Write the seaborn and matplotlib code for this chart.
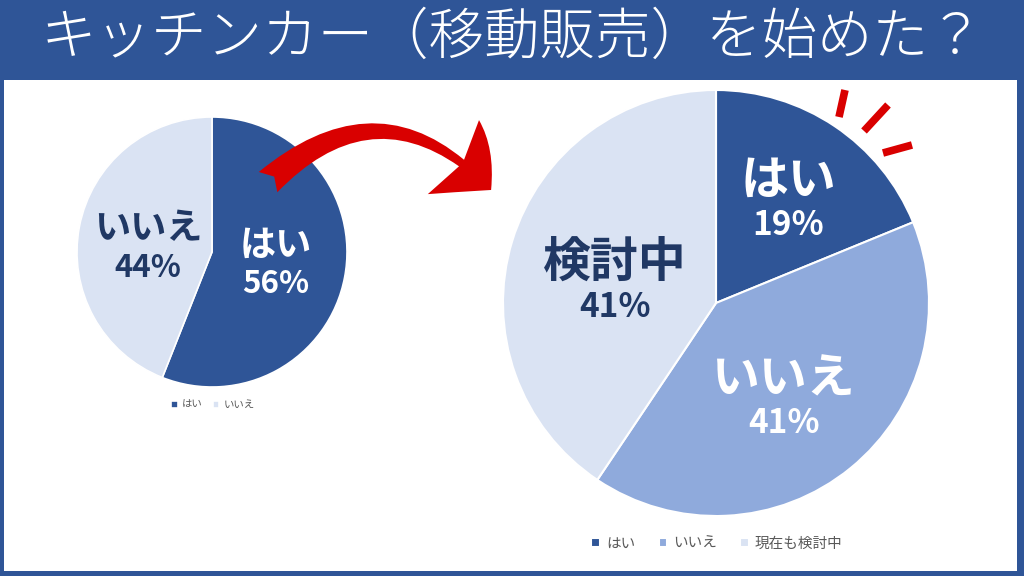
import matplotlib
matplotlib.use("Agg")
import matplotlib.pyplot as plt
import seaborn as sns
from matplotlib.patches import Rectangle, FancyArrowPatch
from matplotlib.lines import Line2D

sns.set_theme(style="white")
plt.rcParams['font.family'] = ['Noto Sans CJK JP', 'DejaVu Sans']

# ---- data ----
title = "キッチンカー（移動販売）を始めた？"
before_labels = ["はい", "いいえ"]
before_values = [56, 44]
after_labels = ["はい", "いいえ", "現在も検討中"]
after_short = ["はい", "いいえ", "検討中"]
after_values = [19, 41, 41]

DARK = "#2F5597"
MID = "#8FAADC"
LIGHT = "#DAE3F3"
NAVY = "#203864"
before_colors = [DARK, LIGHT]
after_colors = [DARK, MID, LIGHT]

W, H = 1024, 576
fig = plt.figure(figsize=(W / 100, H / 100), dpi=100)
fig.patch.set_facecolor(DARK)

def fx(x): return x / W
def fy(y): return 1 - y / H

# white panel
fig.add_artist(Rectangle((fx(4), fy(571)), 1013 / W, 491 / H, transform=fig.transFigure,
                         facecolor="white", edgecolor="none", zorder=0))
fig.text(0.5, fy(38), title, ha="center", va="center", color="white", fontsize=40,
         fontweight="light")

def pie_axes(cx, cy, r):
    ax = fig.add_axes([fx(cx - r), fy(cy + r), 2 * r / W, 2 * r / H])
    ax.axis("off")
    return ax

def fix_limits(ax):
    ax.set_xlim(-1, 1); ax.set_ylim(-1, 1); ax.set_aspect("equal")
    ax.axis("off")

# ---- pie 1 ----
ax1 = pie_axes(212, 252, 135)
w1, _ = ax1.pie(before_values, colors=before_colors, startangle=90, counterclock=False,
                radius=1, wedgeprops=dict(edgecolor="white", linewidth=1.2))
fix_limits(ax1)
lab1_pos = [(0.475, -0.09), (-0.475, 0.03)]
lab1_col = ["white", NAVY]
for (x, y), name, v, c in zip(lab1_pos, before_labels, before_values, lab1_col):
    ax1.text(x, y + 0.14, name, ha="center", va="center", fontsize=26, fontweight="bold", color=c)
    ax1.text(x, y - 0.15, f"{v}%", ha="center", va="center", fontsize=22.5, fontweight="bold", color=c)
fig.legend(w1, before_labels, loc="center", bbox_to_anchor=(fx(213), fy(405)), ncol=2,
           frameon=False, fontsize=7.5, labelcolor="#595959", handlelength=0.6, handleheight=0.6,
           handletextpad=0.4, columnspacing=1.0)

# ---- pie 2 ----
ax2 = pie_axes(716, 303, 213)
w2, _ = ax2.pie(after_values, colors=after_colors, startangle=90, counterclock=False,
                radius=1, wedgeprops=dict(edgecolor="white", linewidth=1.5))
fix_limits(ax2)
lab2_pos = [(0.34, 0.47), (0.32, -0.46), (-0.475, 0.085)]
lab2_col = ["white", "white", NAVY]
for (x, y), name, v, c in zip(lab2_pos, after_short, after_values, lab2_col):
    ax2.text(x, y + 0.105, name, ha="center", va="center", fontsize=34.5, fontweight="bold", color=c)
    ax2.text(x, y - 0.105, f"{v}%", ha="center", va="center", fontsize=24, fontweight="bold", color=c)
fig.legend(w2, after_labels, loc="center", bbox_to_anchor=(fx(717), fy(544)), ncol=3,
           frameon=False, fontsize=10.5, labelcolor="#595959", handlelength=0.6, handleheight=0.6,
           handletextpad=0.4, columnspacing=1.6)

# ---- red curved arrow ----
arrow = FancyArrowPatch((fx(266), fy(184)), (fx(493), fy(192)), transform=fig.transFigure,
                        connectionstyle="arc3,rad=-0.5",
                        arrowstyle="fancy,head_length=1.0,head_width=1.8,tail_width=0.55",
                        mutation_scale=36, facecolor="#D90000", edgecolor="none", zorder=5)
fig.add_artist(arrow)

# ---- red emphasis marks ----
for (x0, y0, x1, y1) in [(845, 90, 839, 117), (888, 105, 864, 131), (912, 145, 883, 153)]:
    fig.add_artist(Line2D([fx(x0), fx(x1)], [fy(y0), fy(y1)], transform=fig.transFigure,
                          color="#D90000", linewidth=5.5, solid_capstyle="butt", zorder=5))

fig.savefig("out.png", dpi=100, facecolor=fig.get_facecolor())
